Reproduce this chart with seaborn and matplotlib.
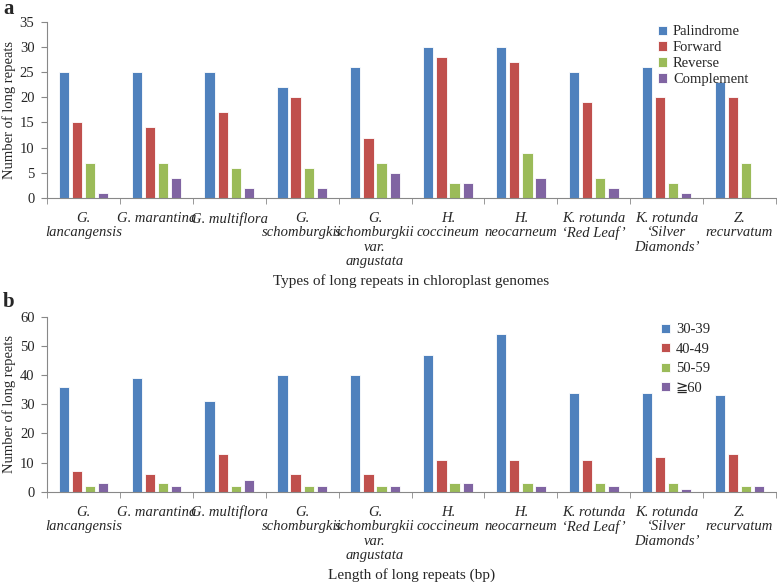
import numpy as np
import pandas as pd
import matplotlib
matplotlib.use("Agg")
import matplotlib.pyplot as plt
import seaborn as sns

species = ["G.\nlancangensis", "G. marantina", "G. multiflora", "G.\nschomburgkii",
           "G.\nschomburgkii\nvar.\nangustata", "H.\ncoccineum", "H.\nneocarneum",
           "K. rotunda\n\u2018Red Leaf\u2019", "K. rotunda\n\u2018Silver\nDiamonds\u2019",
           "Z.\nrecurvatum"]

types_a = ["Palindrome", "Forward", "Reverse", "Complement"]
palindrome = [25, 25, 25, 22, 26, 30, 30, 25, 26, 23]
forward = [15, 14, 17, 20, 12, 28, 27, 19, 20, 20]
reverse = [7, 7, 6, 6, 7, 3, 9, 4, 3, 7]
complement = [1, 4, 2, 2, 5, 3, 4, 2, 1, 0]

types_b = ["30-39", "40-49", "50-59", "\u226760"]
len30 = [36, 39, 31, 40, 40, 47, 54, 34, 34, 33]
len40 = [7, 6, 13, 6, 6, 11, 11, 11, 12, 13]
len50 = [2, 3, 2, 2, 2, 3, 3, 3, 3, 2]
len60 = [3, 2, 4, 2, 2, 3, 2, 2, 1, 2]

colors = ["#4F81BD", "#C0504D", "#9BBB59", "#8064A2"]

def long_df(series, names):
    rows = []
    for name, vals in zip(names, series):
        for sp, v in zip(species, vals):
            rows.append({"species": sp, "type": name, "value": v})
    return pd.DataFrame(rows)

df_a = long_df([palindrome, forward, reverse, complement], types_a)
df_b = long_df([len30, len40, len50, len60], types_b)

sns.set_style("white")
plt.rcParams["font.family"] = ["Liberation Serif", "DejaVu Sans"]

fig = plt.figure(figsize=(7.77, 5.82), dpi=100)
W, H = 777, 582
ax_a = fig.add_axes([47 / W, 1 - 198 / H, (776 - 47) / W, (198 - 21.7) / H])
ax_b = fig.add_axes([47 / W, 1 - 491.7 / H, (776 - 47) / W, (491.7 - 316.7) / H])

def draw(ax, df, names, ymax, ystep, xlabel, leg_anchor, lspace):
    sns.barplot(data=df, x="species", y="value", hue="type", hue_order=names,
                palette=colors, saturation=1, width=0.72, gap=0.22, ax=ax,
                edgecolor="white", linewidth=0.6, errorbar=None)
    ax.set_ylim(0, ymax)
    ax.set_xlim(-0.5, 9.5)
    ax.set_yticks(np.arange(0, ymax + 1, ystep))
    ax.tick_params(axis="y", labelsize=10.5, length=4, color="#888888", direction="out", left=True, pad=5)
    ax.set_xticks(range(len(species)))
    ax.set_xticklabels(species, fontstyle="italic", fontsize=10.5, linespacing=1.15)
    ax.tick_params(axis="x", which="major", length=0, pad=10)
    ax.set_xticks(np.arange(-0.5, 10, 1), minor=True)
    ax.tick_params(axis="x", which="minor", length=4, color="#888888", direction="out", bottom=True)
    for s in ["top", "right"]:
        ax.spines[s].set_visible(False)
    for s in ["left", "bottom"]:
        ax.spines[s].set_color("#888888")
        ax.spines[s].set_linewidth(0.8)
    ax.set_ylabel("Number of long repeats", fontsize=10.5)
    ax.set_xlabel(xlabel, fontsize=11, labelpad=4)
    handles, labels = ax.get_legend_handles_labels()
    ax.legend(handles, labels, loc="upper left", bbox_to_anchor=leg_anchor,
              bbox_transform=fig.transFigure, frameon=False, fontsize=10.5,
              handlelength=0.6, handleheight=0.6, handletextpad=0.4,
              labelspacing=lspace, borderpad=0)

draw(ax_a, df_a, types_a, 35, 5, "Types of long repeats in chloroplast genomes",
     (651 / W, 1 - 18 / H), 0.2)
draw(ax_b, df_b, types_b, 60, 10, "Length of long repeats (bp)",
     (654 / W, 1 - 316 / H), 0.45)

ax_a.yaxis.set_label_coords(-0.042, 0.5)
ax_b.yaxis.set_label_coords(-0.042, 0.5)

fig.text(3 / W, 1 - 14 / H, "a", fontsize=15, fontweight="bold")
fig.text(3 / W, 1 - 307 / H, "b", fontsize=15, fontweight="bold")

fig.savefig("out.png", dpi=100)
